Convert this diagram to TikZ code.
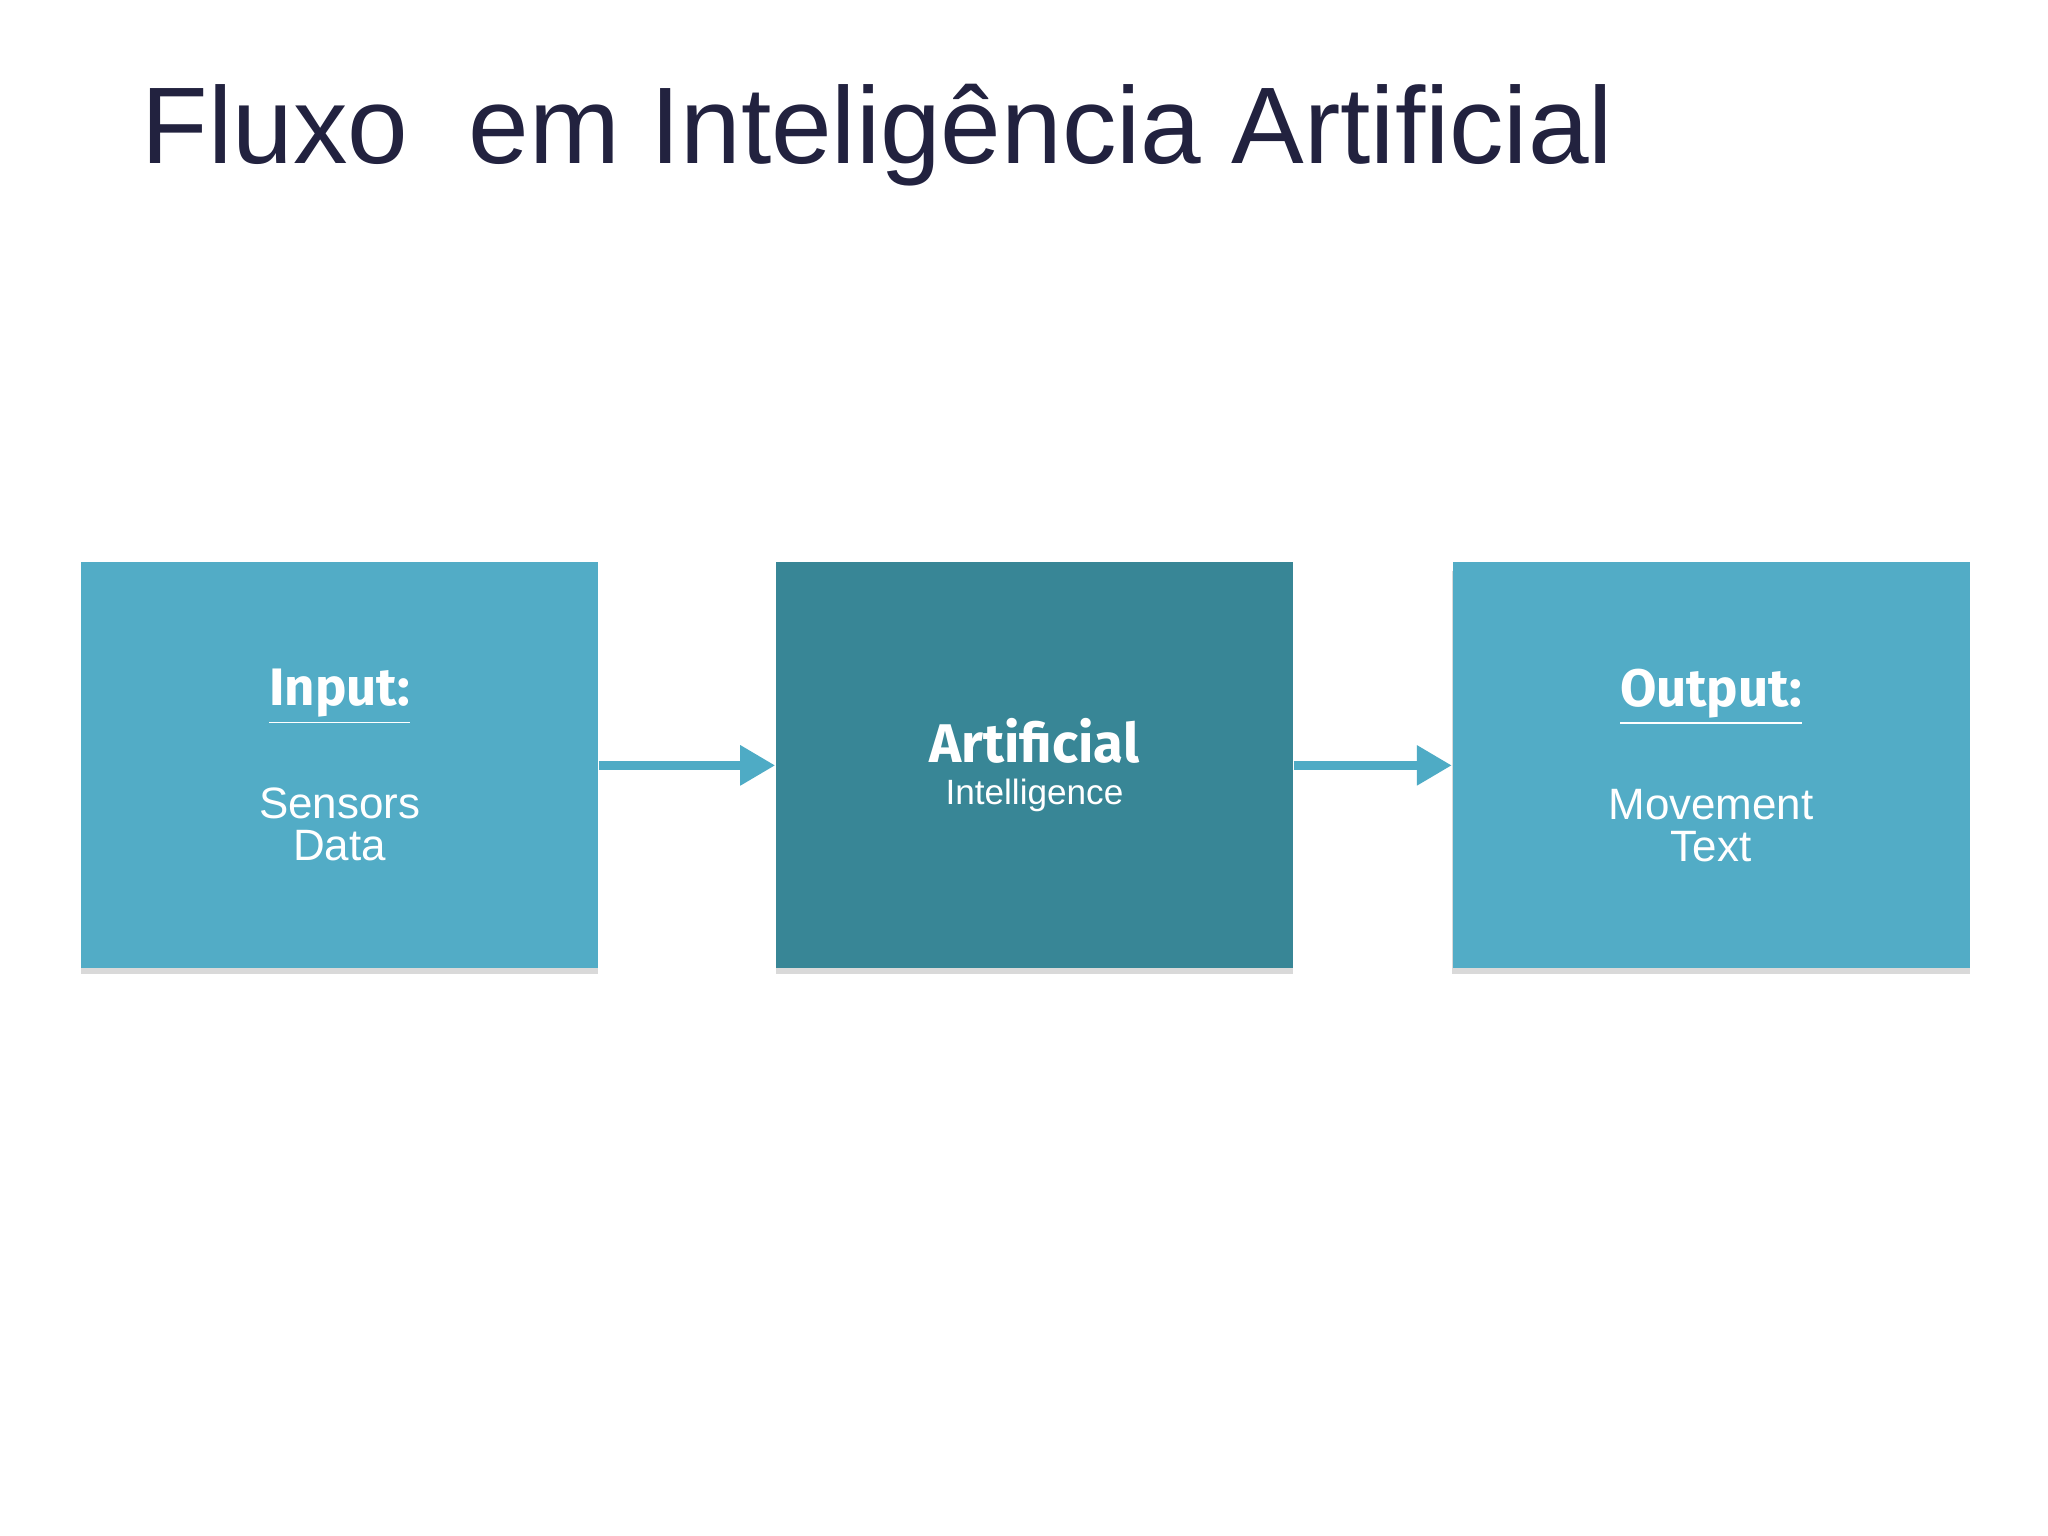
\documentclass[tikz,border=0pt]{standalone}
\usepackage{fontspec}
\setmainfont{Liberation Sans}
\newfontfamily\boxfont{Fira Sans}
\usetikzlibrary{arrows.meta}
\definecolor{boxblue}{HTML}{52ACC6}
\definecolor{boxdark}{HTML}{388696}
\definecolor{arrowblue}{HTML}{4EABC5}
\definecolor{titlecol}{HTML}{22223F}
\tikzset{
  blockbox/.style={draw=none,minimum width=5.17cm,minimum height=4.06cm,
    text=white,align=center,inner sep=0pt},
  shadowbox/.style={fill=black,opacity=0.15},
  flowarrow/.style={draw=arrowblue,line width=0.09cm,-{Triangle[length=0.35cm,width=0.38cm]}}
}
\begin{document}
\begin{tikzpicture}[x=0.01306cm,y=-0.01306cm]
\useasboundingbox (0,0) rectangle (1568,1176);
\fill[white] (0,0) rectangle (1568,1176);
\node[anchor=base west,text=titlecol,font=\fontsize{31}{36}\selectfont,inner sep=0pt] (title) at (108,125) {Fluxo\ \ em Inteligência Artificial};
\fill[shadowbox] (62,437) rectangle (458,746);
\fill[shadowbox] (594,437) rectangle (990,746);
\fill[shadowbox] (1112,437) rectangle (1508,746);
\node[blockbox,fill=boxblue] (in) at (260,586) {\boxfont\bfseries{\fontsize{15}{18}\selectfont\underline{Input:}}\\[0.6cm]{\fontsize{12.5}{15.5}\selectfont Sensors}\\{\fontsize{12.5}{15.5}\selectfont Data}};
\node[blockbox,fill=boxdark] (ai) at (792,586) {\boxfont\bfseries\fontsize{15.5}{19}\selectfont Artificial\\Intelligence};
\node[blockbox,fill=boxblue] (out) at (1310,586) {\boxfont\bfseries{\fontsize{15}{18}\selectfont\underline{Output:}}\\[0.6cm]{\fontsize{12.5}{15.5}\selectfont Movement}\\{\fontsize{12.5}{15.5}\selectfont Text}};
\draw[flowarrow] (in.east) -- (ai.west);
\draw[flowarrow] (ai.east) -- (out.west);
\end{tikzpicture}
\end{document}
